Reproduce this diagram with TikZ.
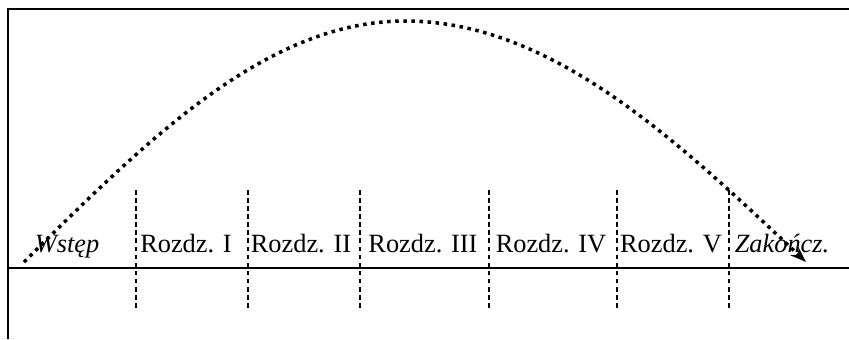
\documentclass[tikz,border=0pt]{standalone}
\usepackage{fontspec}
\setmainfont{Liberation Serif}
\usetikzlibrary{arrows.meta}

\begin{document}
\begin{tikzpicture}[x=0.02cm,y=-0.02cm,
  chap/.style={anchor=base,inner sep=0pt,font=\fontsize{15}{18}\selectfont},
  sep/.style={dashed,dash pattern=on 2.6pt off 2pt,line width=0.7pt},
  frame/.style={line width=1.6pt}]
\useasboundingbox (0,0) rectangle (849,339);
\draw[frame] (849,9) -- (8,9) -- (8,339); %
\draw[line width=1.2pt] (8,268) -- (849,268); %
\draw[sep] (136,190) -- (136,308); %
\draw[sep] (248,190) -- (248,308); %
\draw[sep] (360,190) -- (360,308); %
\draw[sep] (489,190) -- (489,308); %
\draw[sep] (617,190) -- (617,308); %
\draw[sep] (729,190) -- (729,308); %
\node[chap] (wstep) at (67,252.5) {\itshape Wstęp};
\node[chap] (rozdzI) at (186,252.5) {Rozdz. I};
\node[chap] (rozdzII) at (301,252.5) {Rozdz. II};
\node[chap] (rozdzIII) at (423,252.5) {Rozdz. III};
\node[chap] (rozdzIV) at (551,252.5) {Rozdz. IV};
\node[chap] (rozdzV) at (671,252.5) {Rozdz. V};
\node[chap] (zakoncz) at (782,252.5) {\itshape Zakończ.};
\coordinate (start) at (24,262);
\coordinate (top) at (405,21);
\coordinate (end) at (806,262);
\draw[line width=2pt,dash pattern=on 2pt off 2.6pt,-{Stealth[length=9pt,width=6.5pt]}]
  (start) sin (top) cos (end); %
\end{tikzpicture}
\end{document}
